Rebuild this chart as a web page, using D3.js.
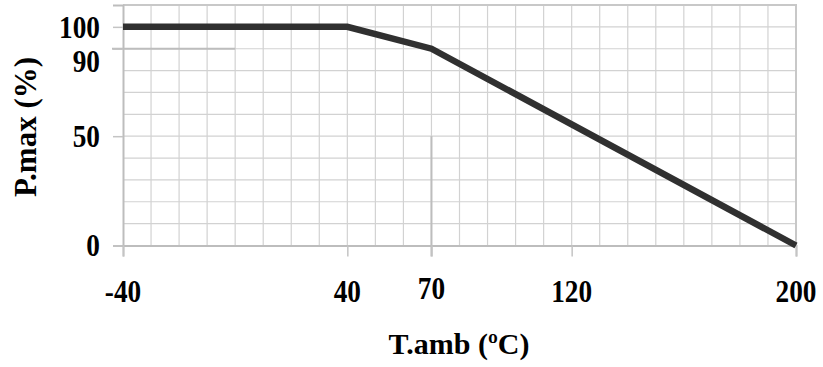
<!DOCTYPE html>
<html>
<head>
	<title></title>
	<style>
		body { margin: 0; background: #fff; }
		text { font-family: "Liberation Serif", "Times New Roman", serif; font-weight: bold; fill: #000; }
	</style>
</head>
<body>
	<svg id="container" width="823" height="367"></svg>
</body>
<script src="https://cdn.jsdelivr.net/npm/d3@7"></script>
<script>
	// derating curve: ambient temperature vs max power
	const tempC = [-40, 40, 70, 200]
	const powerPct = [100, 100, 90, 0]
	const xTickLabels = [-40, 40, 70, 120, 200]
	const yTickLabels = [0, 50, 90, 100]
	// helper lines drawn in the original chart
	const guideH = { y: 90, x0: -40, x1: 0 }
	const guideV = { x: 70, y0: 0, y1: 50 }

	let container = d3.select("#container")

	let x = d3.scaleLinear().domain([-40, 200]).range([123, 796])
	let y = d3.scaleLinear().domain([0, 110]).range([245.5, 5])

	// grid every 10 units
	let grid = container.append("g")
	grid.selectAll("line.vx")
		.data(d3.range(-30, 200, 10))
		.enter().append("line")
		.attr("x1", d => x(d)).attr("x2", d => x(d))
		.attr("y1", y(0)).attr("y2", y(110))
		.attr("stroke", "#d2d2d2").attr("stroke-width", 1.2)
	grid.selectAll("line.hy")
		.data(d3.range(10, 110, 10))
		.enter().append("line")
		.attr("x1", x(-40)).attr("x2", x(200))
		.attr("y1", d => y(d)).attr("y2", d => y(d))
		.attr("stroke", "#d2d2d2").attr("stroke-width", 1.2)

	// frame (top + right)
	container.append("path")
		.attr("d", `M${x(-40)},${y(110)}H${x(200)}V${y(0)}`)
		.attr("fill", "none").attr("stroke", "#c8c8c8").attr("stroke-width", 2)

	// guide lines
	container.append("line")
		.attr("x1", x(guideH.x0) - 11).attr("x2", x(guideH.x1))
		.attr("y1", y(guideH.y)).attr("y2", y(guideH.y))
		.attr("stroke", "#bdbdbd").attr("stroke-width", 2)
	container.append("line")
		.attr("x1", x(guideV.x)).attr("x2", x(guideV.x))
		.attr("y1", y(guideV.y0) + 11).attr("y2", y(guideV.y1))
		.attr("stroke", "#bdbdbd").attr("stroke-width", 2)

	// axes
	let yAxis = d3.axisLeft(y).tickValues(yTickLabels).tickSize(10).tickFormat("")
	container.append("g").attr("transform", `translate(${x(-40)},0)`).call(yAxis)
	let xAxis = d3.axisBottom(x).tickValues(xTickLabels).tickSize(11).tickFormat("")
	container.append("g").attr("transform", `translate(0,${y(0)})`).call(xAxis)
	container.selectAll(".domain").attr("stroke", "#bdbdbd").attr("stroke-width", 2)
	container.selectAll(".tick line").attr("stroke", "#c4c4c4").attr("stroke-width", 1.5)

	// tick labels (slightly narrow, tall digits like the original)
	container.selectAll("text.ylab")
		.data(yTickLabels)
		.enter().append("text")
		.attr("transform", d => `translate(100,${y(d) + (d === 90 ? 12 : 0)}) scale(0.88,1)`)
		.attr("dy", "0.35em")
		.attr("text-anchor", "end")
		.attr("font-size", 31)
		.text(d => d)
	container.selectAll("text.xlab")
		.data(xTickLabels)
		.enter().append("text")
		.attr("transform", d => `translate(${x(d)},${d === 70 ? 299 : 302}) scale(0.88,1)`)
		.attr("text-anchor", "middle")
		.attr("font-size", 31)
		.text(d => d)

	// data line
	let line = d3.line().x((d, i) => x(tempC[i])).y(d => y(d))
	container.append("path")
		.attr("d", line(powerPct))
		.attr("fill", "none")
		.attr("stroke", "#303030")
		.attr("stroke-width", 6.5)

	// titles
	container.append("text")
		.attr("x", 459).attr("y", 354)
		.attr("text-anchor", "middle")
		.attr("font-size", 30)
		.text("T.amb (ºC)")
	container.append("text")
		.attr("transform", "translate(36,127) rotate(-90)")
		.attr("text-anchor", "middle")
		.attr("font-size", 31)
		.text("P.max (%)")
</script>
</html>
